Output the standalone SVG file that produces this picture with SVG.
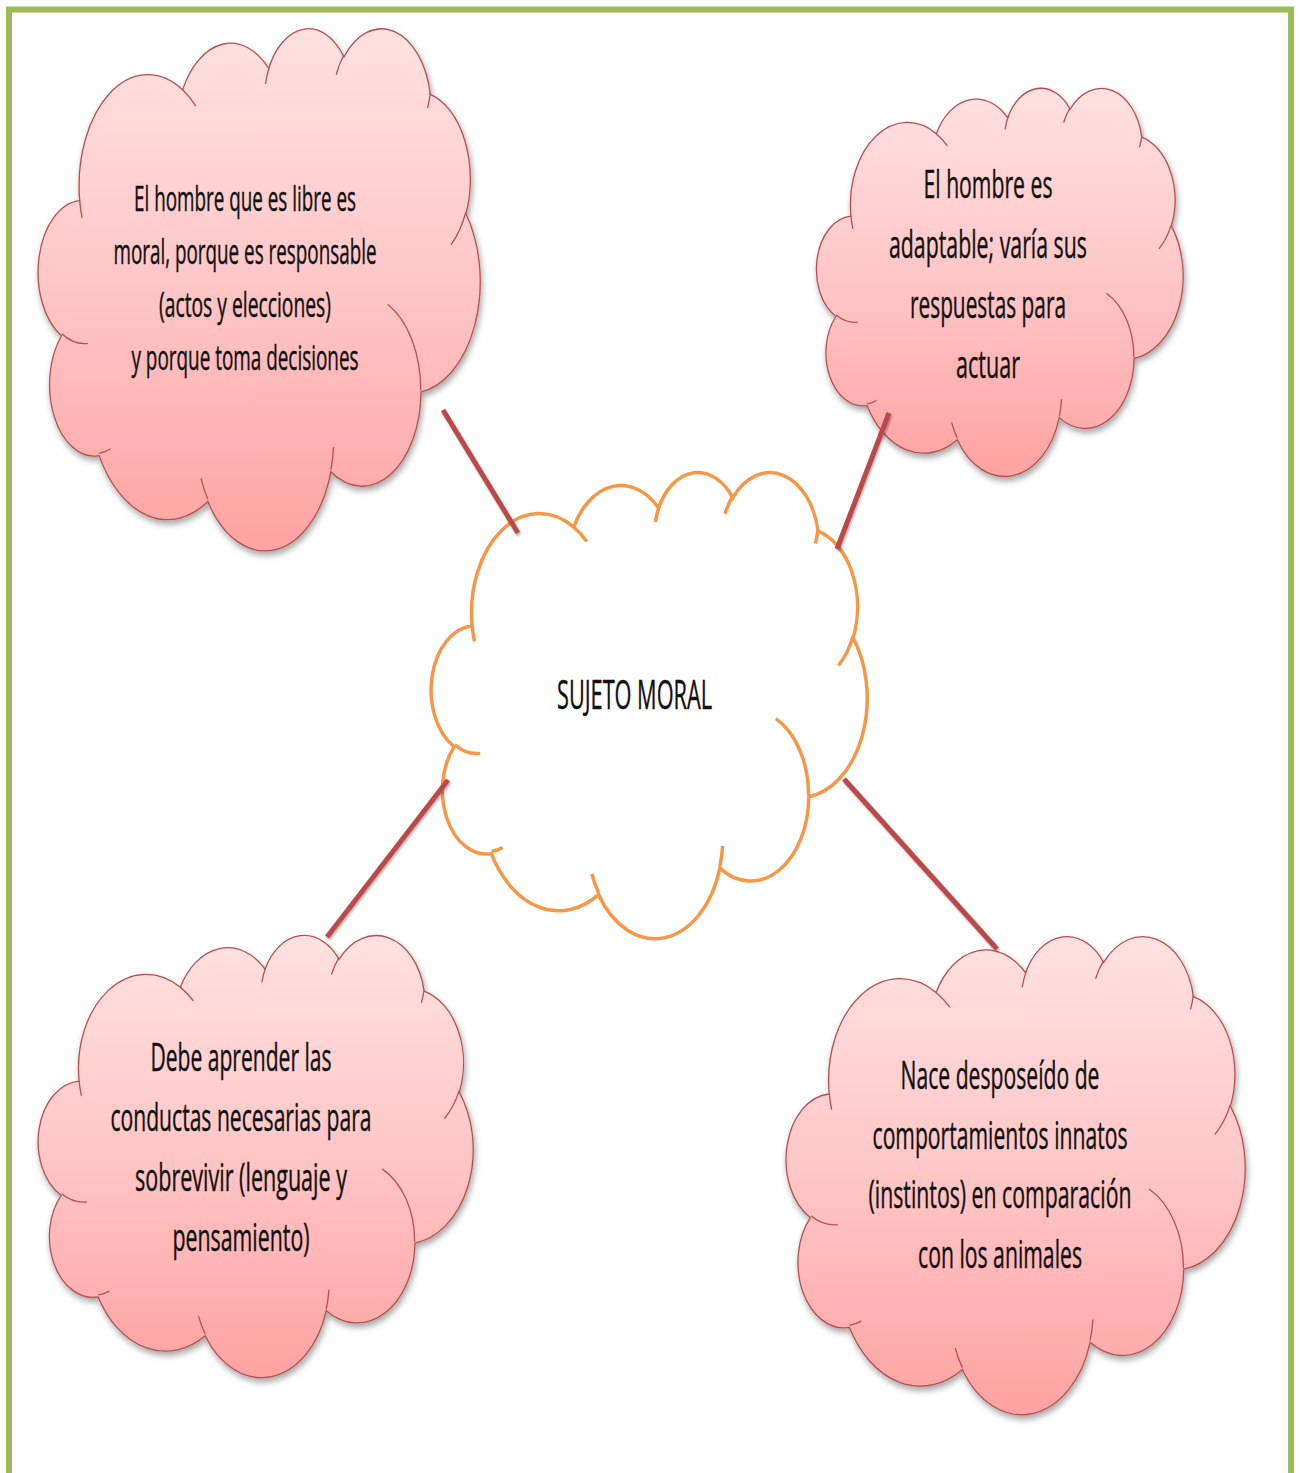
<svg xmlns="http://www.w3.org/2000/svg" xmlns:xlink="http://www.w3.org/1999/xlink" width="1300" height="1473" viewBox="0 0 1300 1473">
<style>
.pink{fill:url(#pinkGrad);stroke:#B5504E;stroke-width:1.3}
.pinkin{fill:none;stroke:#B5504E;stroke-width:1.3}
.core{fill:#FFFFFF;stroke:#F79646;stroke-width:3.5}
.corein{fill:none;stroke:#F79646;stroke-width:3.5}
.t{font-family:"Open Sans","Liberation Sans",sans-serif;fill:#111111;stroke:#111111;stroke-width:0.45;text-anchor:middle}
.conn{stroke:#BC4A48;stroke-width:5;stroke-linecap:butt;fill:none}
</style>
<defs>
<linearGradient id="pinkGrad" x1="0" y1="0" x2="0" y2="1">
<stop offset="0" stop-color="#FFE1E1"/>
<stop offset="0.5" stop-color="#FFC6C6"/>
<stop offset="1" stop-color="#FFA2A2"/>
</linearGradient>
<filter id="shadow" x="-10%" y="-10%" width="125%" height="125%">
<feDropShadow dx="1.5" dy="4" stdDeviation="3" flood-color="#000000" flood-opacity="0.35"/>
</filter>
<filter id="lshadow" x="-20%" y="-20%" width="140%" height="140%">
<feDropShadow dx="1" dy="2" stdDeviation="1.2" flood-color="#000000" flood-opacity="0.3"/>
</filter>
<path id="cloudOuter" vector-effect="non-scaling-stroke" d="M3900 14370 A6753 9190 0 0 1 14005 5202 A5333 7267 0 0 1 22457 3433 A4365 5945 0 0 1 29835 2482 A4857 6595 0 0 1 38320 5577 A5333 7273 0 0 1 41821 15461 A6775 9220 0 0 1 37406 30203 A5785 7867 0 0 1 28557 36813 A6752 9215 0 0 1 16482 39266 A7720 10543 0 0 1 5806 35470 A4360 5918 0 0 1 2113 25551 A4345 5945 0 0 1 3900 14370 Z"/>
<path id="cloudInner" vector-effect="non-scaling-stroke" d="M4693 26177 A4345 5945 0 0 1 2160 25380 M6928 34899 A4360 5918 0 0 1 5819 35281 M16478 39090 A6752 9215 0 0 1 15809 37348 M28827 34751 A6752 9215 0 0 1 28560 36660 M34129 22954 A5785 7867 0 0 1 37380 30090 M41798 15354 A5333 7273 0 0 1 40351 18030 M38324 5426 A4857 6595 0 0 1 38051 6715 M29078 3952 A4857 6595 0 0 1 29820 2340 M22141 4720 A4365 5945 0 0 1 22500 3330 M14000 5192 A6753 9190 0 0 1 15302 6543 M4127 15789 A6753 9190 0 0 1 3901 14371"/>
</defs>
<rect x="0" y="0" width="1300" height="1473" fill="#FFFFFF"/>
<rect id="frame" x="9" y="9.5" width="1282" height="1520" fill="none" stroke="#9BBB59" stroke-width="6"/>

<g id="node-libre">
<g filter="url(#shadow)">
<use xlink:href="#cloudOuter" class="pink" transform="translate(40 27) scale(0.0101852 0.0120833)"/>
</g>
<use xlink:href="#cloudInner" class="pinkin" transform="translate(40 27) scale(0.0101852 0.0120833)"/>
<text class="t" font-size="35"><tspan x="245" y="211" textLength="222" lengthAdjust="spacingAndGlyphs">El hombre que es libre es</tspan><tspan x="245" y="264" textLength="263" lengthAdjust="spacingAndGlyphs">moral, porque es responsable</tspan><tspan x="245" y="317" textLength="172" lengthAdjust="spacingAndGlyphs">(actos y elecciones)</tspan><tspan x="245" y="370" textLength="227" lengthAdjust="spacingAndGlyphs">y porque toma decisiones</tspan></text>
</g>

<g id="node-adaptable">
<g filter="url(#shadow)">
<use xlink:href="#cloudOuter" class="pink" transform="translate(818 87) scale(0.0084491 0.0089815)"/>
</g>
<use xlink:href="#cloudInner" class="pinkin" transform="translate(818 87) scale(0.0084491 0.0089815)"/>
<text class="t" font-size="39"><tspan x="988" y="198" textLength="129" lengthAdjust="spacingAndGlyphs">El hombre es</tspan><tspan x="988" y="258" textLength="198" lengthAdjust="spacingAndGlyphs">adaptable; varía sus</tspan><tspan x="988" y="318" textLength="156" lengthAdjust="spacingAndGlyphs">respuestas para</tspan><tspan x="988" y="378" textLength="64" lengthAdjust="spacingAndGlyphs">actuar</tspan></text>
</g>

<g id="node-aprender">
<g filter="url(#shadow)">
<use xlink:href="#cloudOuter" class="pink" transform="translate(40 934) scale(0.0100231 0.0102315)"/>
</g>
<use xlink:href="#cloudInner" class="pinkin" transform="translate(40 934) scale(0.0100231 0.0102315)"/>
<text class="t" font-size="39"><tspan x="241" y="1071" textLength="181" lengthAdjust="spacingAndGlyphs">Debe aprender las</tspan><tspan x="241" y="1131" textLength="261" lengthAdjust="spacingAndGlyphs">conductas necesarias para</tspan><tspan x="241" y="1191" textLength="212" lengthAdjust="spacingAndGlyphs">sobrevivir (lenguaje y</tspan><tspan x="241" y="1251" textLength="137" lengthAdjust="spacingAndGlyphs">pensamiento)</tspan></text>
</g>

<g id="node-nace">
<g filter="url(#shadow)">
<use xlink:href="#cloudOuter" class="pink" transform="translate(788 935) scale(0.0105787 0.0110648)"/>
</g>
<use xlink:href="#cloudInner" class="pinkin" transform="translate(788 935) scale(0.0105787 0.0110648)"/>
<text class="t" font-size="39"><tspan x="1000" y="1089" textLength="199" lengthAdjust="spacingAndGlyphs">Nace desposeído de</tspan><tspan x="1000" y="1149" textLength="255" lengthAdjust="spacingAndGlyphs">comportamientos innatos</tspan><tspan x="1000" y="1208" textLength="263" lengthAdjust="spacingAndGlyphs">(instintos) en comparación</tspan><tspan x="1000" y="1268" textLength="164" lengthAdjust="spacingAndGlyphs">con los animales</tspan></text>
</g>

<g id="node-sujeto">
<use xlink:href="#cloudOuter" class="core" transform="translate(433 471) scale(0.0100463 0.010787)"/>
<use xlink:href="#cloudInner" class="corein" transform="translate(433 471) scale(0.0100463 0.010787)"/>
<text class="t" font-size="40"><tspan x="634.5" y="709" textLength="155" lengthAdjust="spacingAndGlyphs">SUJETO MORAL</tspan></text>
</g>

<g id="connectors" filter="url(#lshadow)">
<line class="conn" x1="443" y1="410" x2="518" y2="533"/>
<line class="conn" x1="889" y1="413" x2="837" y2="549"/>
<line class="conn" x1="448" y1="780" x2="327" y2="937"/>
<line class="conn" x1="844" y1="779" x2="997" y2="949"/>
</g>
</svg>
